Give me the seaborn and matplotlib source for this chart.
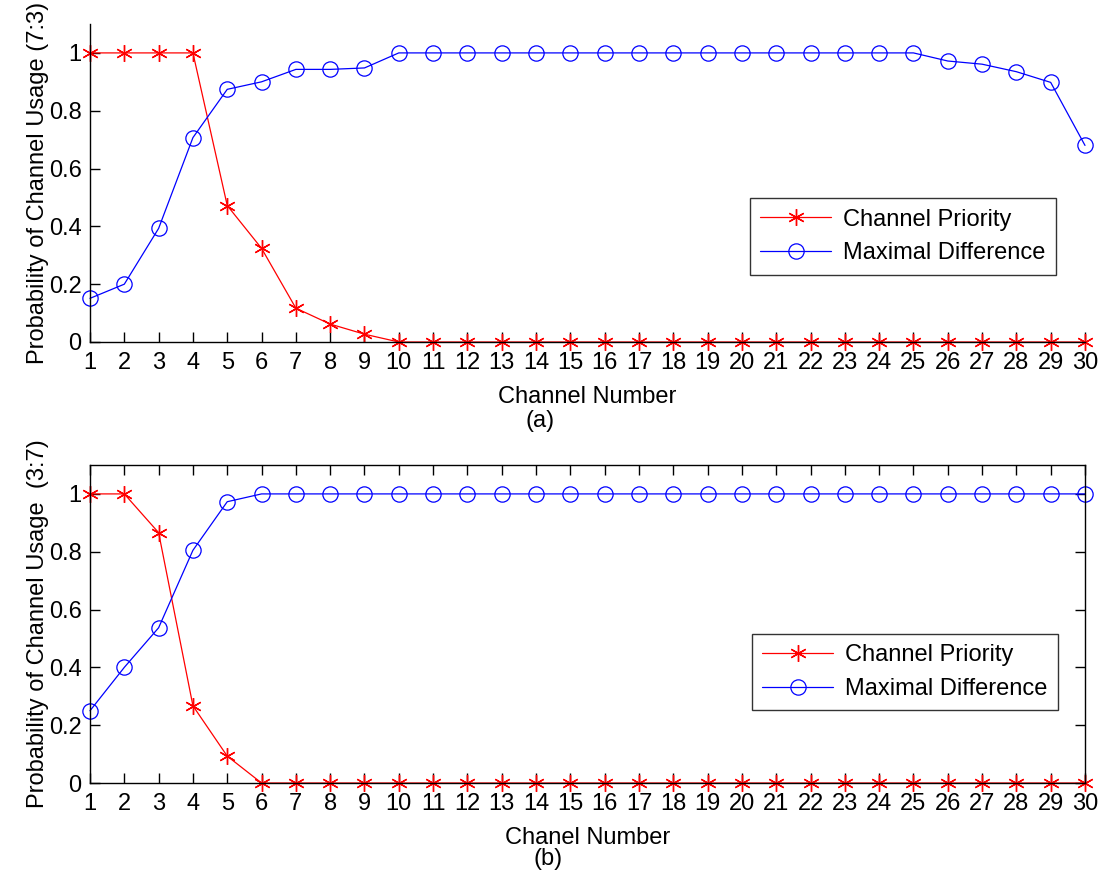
import matplotlib
matplotlib.use("Agg")
import matplotlib.pyplot as plt
import numpy as np
import pandas as pd
import seaborn as sns

sns.set_style("ticks")
plt.rcParams["font.family"] = ["Liberation Sans", "DejaVu Sans"]
plt.rcParams["text.color"] = "black"
plt.rcParams["axes.labelcolor"] = "black"
plt.rcParams["xtick.color"] = "black"
plt.rcParams["ytick.color"] = "black"

# Datos
canales = list(range(1, 31))

prioridad_a = [1, 1, 1, 1, 0.472, 0.324, 0.117, 0.062, 0.027] + [0] * 21
max_dif_a = [0.151, 0.20, 0.393, 0.707, 0.874, 0.90, 0.943, 0.943, 0.948] + [1] * 16 + \
            [0.972, 0.961, 0.935, 0.898, 0.680]

prioridad_b = [1, 1, 0.866, 0.267, 0.093] + [0] * 25
max_dif_b = [0.25, 0.40, 0.537, 0.805, 0.973] + [1] * 25

series = ["Channel Priority", "Maximal Difference"]

fig = plt.figure(figsize=(11.07, 8.76), dpi=100)
ax_a = fig.add_axes([90 / 1107, 1 - 342 / 876, 995 / 1107, 318 / 876])
ax_b = fig.add_axes([90 / 1107, 1 - 783 / 876, 995 / 1107, 318 / 876])

fs = 17


def dibujar(ax, prio, maxd, ylabel, xlabel, letra, box, leg_pos, letra_pos):
    df = pd.DataFrame({
        "Canal": canales * 2,
        "Prob": prio + maxd,
        "Serie": [series[0]] * 30 + [series[1]] * 30,
    })
    sns.lineplot(data=df[df["Serie"] == series[0]], x="Canal", y="Prob", ax=ax,
                 color="red", marker=(6, 2, 0), markersize=12, markeredgecolor="red",
                 markeredgewidth=1.0, linewidth=0.9, label=series[0], clip_on=False)
    sns.lineplot(data=df[df["Serie"] == series[1]], x="Canal", y="Prob", ax=ax,
                 color="blue", marker="o", markersize=11, markerfacecolor="none",
                 markeredgecolor="blue", markeredgewidth=0.9, linewidth=0.9,
                 label=series[1], clip_on=False)
    ax.set_xlim(1, 30)
    ax.set_ylim(0, 1.1)
    ax.set_xticks(canales)
    ax.set_yticks([0, 0.2, 0.4, 0.6, 0.8, 1])
    ax.set_yticklabels(["0", "0.2", "0.4", "0.6", "0.8", "1"])
    ax.tick_params(direction="in", length=7, width=1, labelsize=fs, pad=7,
                   top=box, right=box, colors="black")
    ax.tick_params(axis="y", pad=6)
    ax.set_ylabel(ylabel, fontsize=fs, labelpad=0)
    ax.set_xlabel(xlabel, fontsize=fs, labelpad=9)
    for s in ax.spines.values():
        s.set_linewidth(1)
        s.set_color("black")
    ax.spines["top"].set_visible(box)
    ax.spines["right"].set_visible(box)
    leg = ax.legend(loc="upper left", bbox_to_anchor=leg_pos,
                    fontsize=fs, frameon=True, fancybox=False, edgecolor="black",
                    handlelength=3.0, borderpad=0.45, labelspacing=0.48,
                    borderaxespad=0, handletextpad=0.5)
    leg.get_frame().set_linewidth(1)
    ax.text(letra_pos[0], letra_pos[1], letra, transform=ax.transAxes,
            ha="center", va="center", fontsize=fs)


dibujar(ax_a, prioridad_a, max_dif_a, "Probability of Channel Usage (7:3)",
        "Channel Number", "(a)", False, (0.663, 0.453), (0.452, -0.25))
dibujar(ax_b, prioridad_b, max_dif_b, "Probability of Channel Usage  (3:7)",
        "Chanel Number", "(b)", True, (0.665, 0.469), (0.46, -0.24))

plt.savefig("out.png", dpi=100)
